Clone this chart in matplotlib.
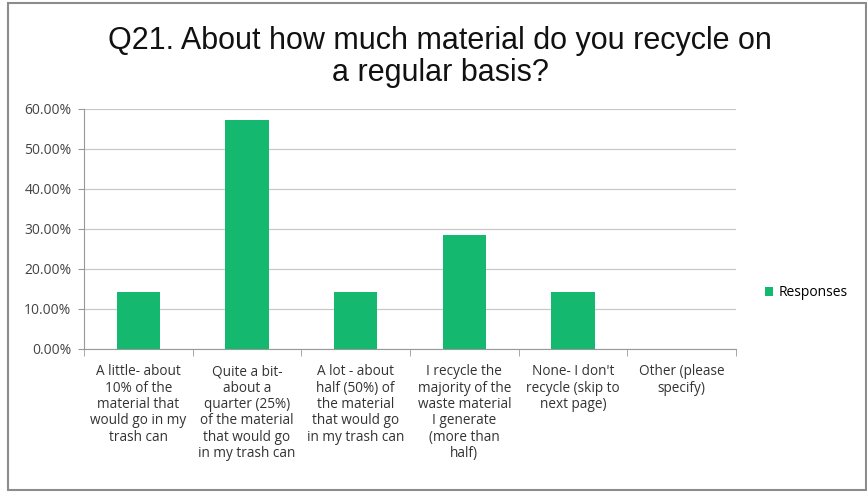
import matplotlib.pyplot as plt
from matplotlib.patches import Rectangle
from matplotlib.ticker import FixedLocator, PercentFormatter

categories = [
    "A little- about\n10% of the\nmaterial that\nwould go in my\ntrash can",
    "Quite a bit-\nabout a\nquarter (25%)\nof the material\nthat would go\nin my trash can",
    "A lot - about\nhalf (50%) of\nthe material\nthat would go\nin my trash can",
    "I recycle the\nmajority of the\nwaste material\nI generate\n(more than\nhalf)",
    "None- I don't\nrecycle (skip to\nnext page)",
    "Other (please\nspecify)",
]
responses = [14.29, 57.14, 14.29, 28.57, 14.29, 0.0]
yticks = [0, 10, 20, 30, 40, 50, 60]

bar_color = "#14b86e"
label_font = ["Open Sans", "DejaVu Sans"]

fig = plt.figure(figsize=(8.67, 4.96), dpi=100)
ax = fig.add_axes([84 / 867, 1 - 349 / 496, 652 / 867, 240 / 496])

x = list(range(len(categories)))
ax.bar(x, responses, width=0.4, color=bar_color, label="Responses", zorder=3)

ax.set_xlim(-0.5, len(categories) - 0.5)
ax.set_ylim(0, 60)
ax.set_yticks(yticks)
ax.yaxis.set_major_formatter(PercentFormatter(decimals=2))
ax.grid(axis="y", color="#c8c8c8", linewidth=0.9, zorder=0)

ax.set_xticks(x)
ax.set_xticklabels(categories, fontsize=9.8, family=label_font, color="#333333",
                   linespacing=1.12)
ax.tick_params(axis="x", length=0, pad=11)
ax.xaxis.set_minor_locator(FixedLocator([i - 0.5 for i in range(len(categories) + 1)]))
ax.tick_params(axis="x", which="minor", length=5, color="#999999")
ax.tick_params(axis="y", length=4, color="#999999", labelsize=10, labelcolor="#444444",
               pad=5)
for lab in ax.get_yticklabels():
    lab.set_family(label_font)

for side in ["top", "right"]:
    ax.spines[side].set_visible(False)
ax.spines["left"].set_color("#999999")
ax.spines["bottom"].set_color("#999999")

fig.text(440 / 867, 1 - 57 / 496, "Q21. About how much material do you recycle on\na regular basis?",
         ha="center", va="center", fontsize=22, linespacing=1.12,
         family=["Liberation Sans", "DejaVu Sans"], color="#111111")

leg = ax.legend(loc="center left", bbox_to_anchor=(1.025, 0.235), frameon=False,
                handlelength=0.6, handleheight=0.6, handletextpad=0.4,
                prop={"family": label_font, "size": 10})

# outer chart frame
fig.patches.append(Rectangle((8 / 867, 6 / 496), 858 / 867, 487 / 496,
                             transform=fig.transFigure, fill=False,
                             edgecolor="#8c8c8c", linewidth=1.5))

fig.savefig("out.png", dpi=100)
